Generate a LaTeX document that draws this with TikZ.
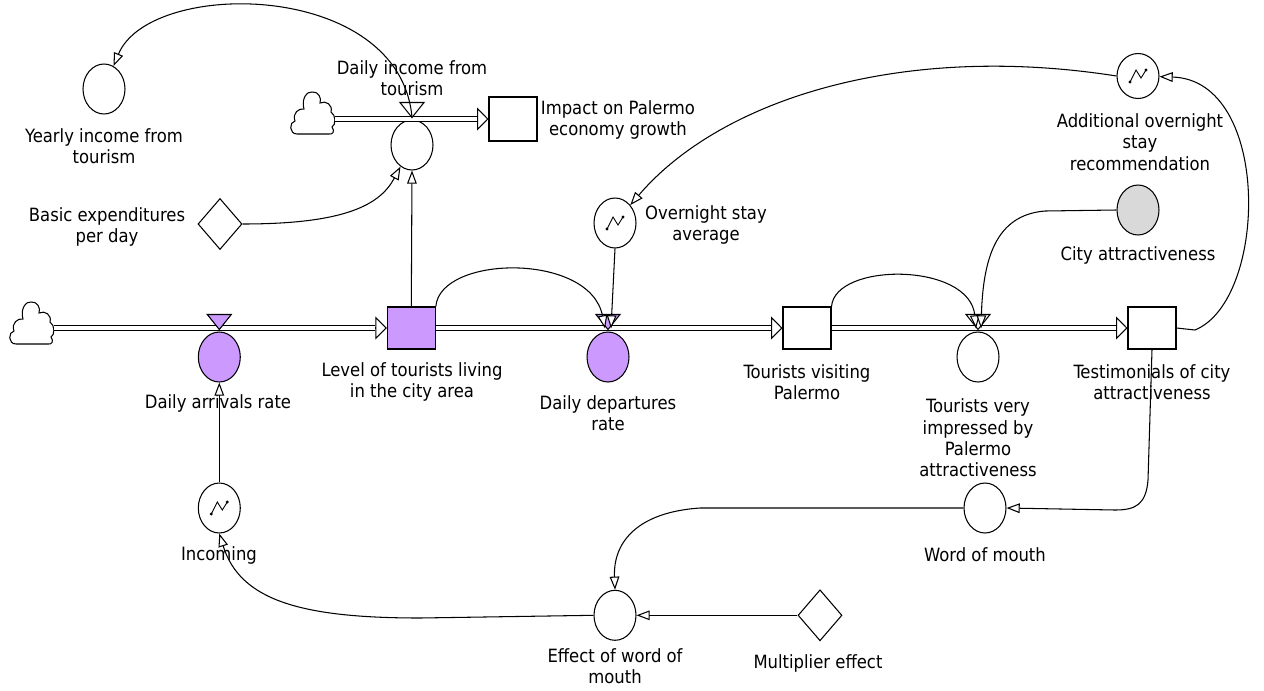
\documentclass[tikz,border=0pt]{standalone}
\usepackage{fontspec}
\setmainfont{DejaVu Sans Condensed}
\usetikzlibrary{shapes.geometric,arrows.meta,calc}
\definecolor{stockpurple}{HTML}{CC99FF}
\definecolor{constgray}{HTML}{D9D9D9}
\newcommand{\gicon}[1]{%
  \draw[line width=0.5pt, shift={(#1.center)}] (-8,6) -- (-2,-6) -- (3,2) -- (8,-6);
  \fill[shift={(#1.center)}] (-8,6) circle (0.9pt) (8,-6) circle (0.9pt);}
\newcommand{\valvetri}[2]{%
  \draw[fill=#2, shift={(#1.north)}] (-12,-17) -- (12,-17) -- (0,-2) -- cycle;}
\newcommand{\cloudpath}[1]{%
  \draw[fill=white, shift={(#1.center)}] (-15,21)
    .. controls (-23,21) and (-23,9) .. (-17,8)
    .. controls (-20,0) and (-13,-5) .. (-8,-4)
    .. controls (-11,-14) and (-5,-22) .. (0,-21)
    .. controls (6,-22) and (10,-15) .. (8,-10)
    .. controls (14,-13) and (21,-8) .. (19,-1)
    .. controls (24,2) and (24,12) .. (20,14)
    .. controls (23,18) and (21,22) .. (17,21) -- cycle;}
\begin{document}
\begin{tikzpicture}[x=0.02cm, y=-0.02cm, line width=0.6pt,
  font=\fontsize{10.4}{12.2}\selectfont,
  aux/.style={ellipse, draw, minimum width=0.84cm, minimum height=1cm, inner sep=0},
  stock/.style={rectangle, draw, minimum width=0.96cm, minimum height=0.84cm, inner sep=0},
  const/.style={diamond, draw, minimum width=0.88cm, minimum height=1.02cm, inner sep=0},
  srcbox/.style={rectangle, minimum width=0.88cm, minimum height=0.86cm, inner sep=0},
  lbl/.style={align=center, inner sep=0},
  link/.style={-{Triangle[fill=white,length=7.5pt,width=5.5pt]}},
  pipe/.style={double=white, double distance=1.8pt, line width=0.6pt},
  pipetip/.style={-{Triangle[fill=white,length=6.5pt,width=13pt]}}]
\useasboundingbox (0,0) rectangle (1264,690);

% ---- nodes ----
\node[aux] (yearly) at (104,89) {};
\node[aux] (dincome) at (412,145) {};
\node[srcbox] (cloudA) at (312,113) {};
\node[stock, minimum height=0.88cm] (impact) at (513,119) {};
\node[const] (basic) at (220,224) {};
\node[srcbox] (cloudB) at (31,323) {};
\node[aux, fill=stockpurple] (arrivals) at (219.3,357) {};
\node[stock, fill=stockpurple] (level) at (411.3,328) {};
\node[aux, fill=stockpurple] (departures) at (608,357) {};
\node[aux] (overnight) at (615,223) {};
\node[stock] (visiting) at (807,328) {};
\node[aux] (impressed) at (978,357) {};
\node[aux, fill=constgray] (city) at (1138,210) {};
\node[stock] (testim) at (1152,328) {};
\node[aux, minimum height=0.9cm] (additional) at (1138,76) {};
\node[aux] (word) at (985,508) {};
\node[aux] (effect) at (615,615.3) {};
\node[const] (mult) at (820,615.3) {};
\node[aux] (incoming) at (219.3,508) {};

% ---- labels ----
\node[lbl] (yearlyL) at (104,146) {Yearly income from\\tourism};
\node[lbl] (dincomeL) at (412,78) {Daily income from\\tourism};
\node[lbl] (impactL) at (618,120) {Impact on Palermo\\economy growth};
\node[lbl] (basicL) at (107,227) {Basic expenditures\\per day};
\node[lbl] (arrivalsL) at (218,403) {Daily arrivals rate};
\node[lbl] (levelL) at (412,382) {Level of tourists living\\in the city area};
\node[lbl] (departuresL) at (608,413) {Daily departures\\rate};
\node[lbl] (overnightL) at (706,225) {Overnight stay\\average};
\node[lbl] (visitingL) at (807,382) {Tourists visiting\\Palermo};
\node[lbl] (impressedL) at (978,438) {Tourists very\\impressed by\\Palermo\\attractiveness};
\node[lbl] (testimL) at (1152,382) {Testimonials of city\\attractiveness};
\node[lbl] (cityL) at (1138,255) {City attractiveness};
\node[lbl] (additionalL) at (1140,142) {Additional overnight\\stay\\recommendation};
\node[lbl] (wordL) at (985,555) {Word of mouth};
\node[lbl] (effectL) at (615,666) {Effect of word of\\mouth};
\node[lbl] (multL) at (818,663) {Multiplier effect};
\node[lbl] (incomingL) at (219,555) {Incoming};

% ---- icons and clouds ----
\gicon{overnight}
\gicon{additional}
\gicon{incoming}
\cloudpath{cloudA}
\cloudpath{cloudB}

% ---- pipes ----
\draw[pipe] (cloudA.east |- impact.west) -- ([xshift=-6.5pt]impact.west);
\draw[pipetip] ([xshift=-6.5pt]impact.west) -- (impact.west);
\draw[pipe] (cloudB.east |- level.west) -- ([xshift=-6.5pt]level.west);
\draw[pipetip] ([xshift=-6.5pt]level.west) -- (level.west);
\draw[pipe] (level.east) -- ([xshift=-6.5pt]visiting.west);
\draw[pipetip] ([xshift=-6.5pt]visiting.west) -- (visiting.west);
\draw[pipe] (visiting.east) -- ([xshift=-6.5pt]testim.west);
\draw[pipetip] ([xshift=-6.5pt]testim.west) -- (testim.west);

% ---- valve triangles ----
\valvetri{dincome}{white}
\valvetri{arrivals}{stockpurple}
\valvetri{departures}{stockpurple}
\valvetri{impressed}{white}
\coordinate (dincomeTop) at ($(dincome.north)+(0,-2)$);
\coordinate (depL) at ($(departures.north)+(-3,-3)$);
\coordinate (depR) at ($(departures.north)+(3,-3)$);
\coordinate (impL) at ($(impressed.north)+(-2,-3)$);
\coordinate (impR) at ($(impressed.north)+(3,-3)$);

% ---- links ----
\draw[link] (dincomeTop) .. controls (400,-20) and (150,-22) .. (yearly);
\draw[link] (basic.east) .. controls (345,224) and (380,205) .. (dincome);
\draw[link] (level.north) -- (dincome.south);
\draw[link] (level.north east) .. controls (440,255) and (590,252) .. (depL);
\draw[link] (overnight.south) -- (depR);
\draw[link] (additional.west) .. controls (900,42) and (720,100) .. (overnight);
\draw[link] (testim.east) -- (1195,330) .. controls (1268,300) and (1272,80) .. (additional);
\draw[link] (visiting.north east) .. controls (835,262) and (970,262) .. (impL);
\draw[link] (city.west) -- (1045,211) .. controls (995,215) and (983,260) .. (impR);
\draw[link] (testim.south) -- (1148,480) .. controls (1146,505) and (1135,510) .. (1115,510) -- (word.east);
\draw[link] (word.west) -- (700,508) .. controls (640,512) and (613,540) .. (effect.north);
\draw[link] (mult.west) -- (effect.east);
\draw[link] (effect.west) -- (420,618) .. controls (300,618) and (240,600) .. (incoming.south);
\draw[link] (incoming.north) -- (arrivals.south);
\end{tikzpicture}
\end{document}
